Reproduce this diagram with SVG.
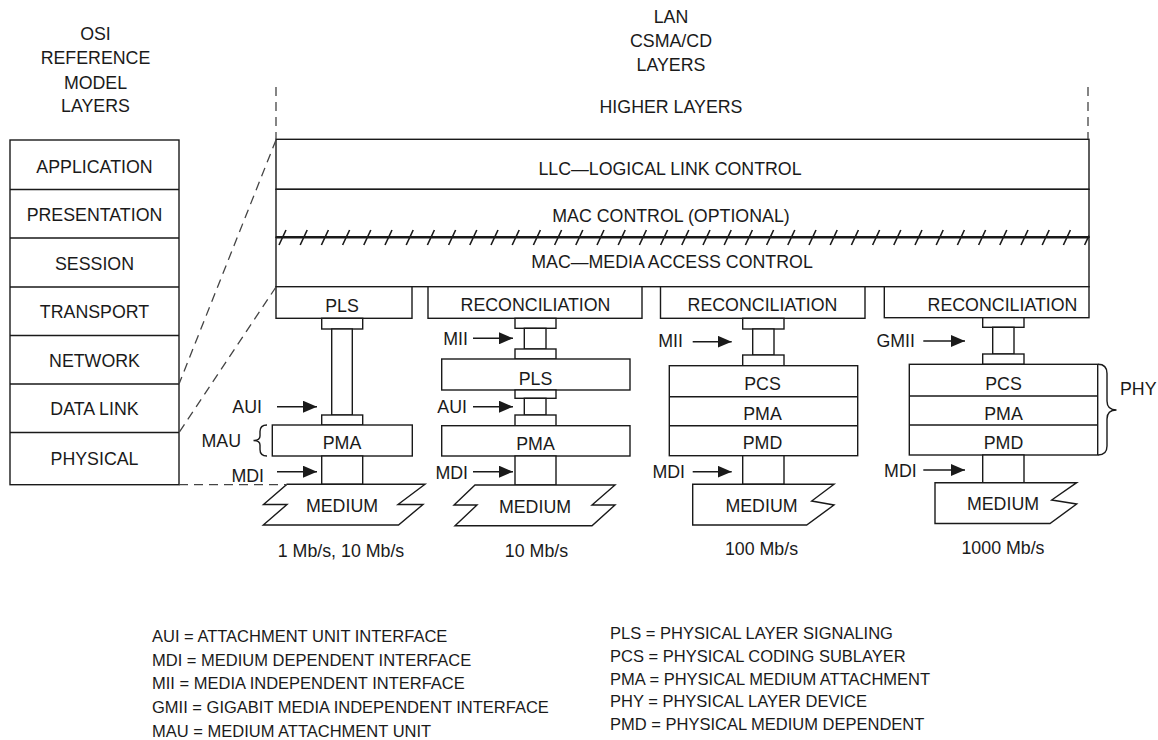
<svg xmlns="http://www.w3.org/2000/svg" width="1158" height="740" viewBox="0 0 1158 740">
<style>
.b{fill:#fff;stroke:#1a1a1a;stroke-width:1.4}
.l{fill:none;stroke:#1a1a1a;stroke-width:1.4}
.d{fill:none;stroke:#444;stroke-width:1.3;stroke-dasharray:9,6}
.h{fill:none;stroke:#1a1a1a;stroke-width:1.6}
.a{fill:none;stroke:#1a1a1a;stroke-width:1.4;marker-end:url(#ah)}
text{font-family:"Liberation Sans",Arial,Helvetica,sans-serif;font-size:17.8px;fill:#1a1a1a}
.c{text-anchor:middle}
.e{text-anchor:end}
.g{font-size:16.5px}
</style>
<defs>
<marker id="ah" markerWidth="14" markerHeight="12" refX="14" refY="6" orient="auto" markerUnits="userSpaceOnUse"><path d="M0,0 L14,6 L0,12 z" fill="#1a1a1a"/></marker>
</defs>

<g id="osi-header">
<text class="c" x="95.5" y="39.5">OSI</text>
<text class="c" x="95.5" y="64">REFERENCE</text>
<text class="c" x="95.5" y="88.5">MODEL</text>
<text class="c" x="95.5" y="112">LAYERS</text>
</g>
<g id="lan-header">
<text class="c" x="671" y="22.5">LAN</text>
<text class="c" x="671" y="46.5">CSMA/CD</text>
<text class="c" x="671" y="70.5">LAYERS</text>
<text class="c" x="671" y="113">HIGHER LAYERS</text>
</g>

<g id="osi-stack">
<rect class="b" x="10" y="140" width="169" height="344.7"/>
<path class="l" d="M10,189.5H179M10,238H179M10,287H179M10,335.5H179M10,384H179M10,432.5H179"/>
<text class="c" x="94.5" y="172.5">APPLICATION</text>
<text class="c" x="94.5" y="221">PRESENTATION</text>
<text class="c" x="94.5" y="269.5">SESSION</text>
<text class="c" x="94.5" y="318">TRANSPORT</text>
<text class="c" x="94.5" y="366.5">NETWORK</text>
<text class="c" x="94.5" y="414.5">DATA LINK</text>
<text class="c" x="94.5" y="464.5">PHYSICAL</text>
</g>

<g id="llc">
<rect class="b" x="276" y="139.3" width="813" height="50"/>
<text class="c" x="670" y="174.5">LLC—LOGICAL LINK CONTROL</text>
</g>
<g id="mac-control">
<rect class="b" x="276" y="189.3" width="813" height="48"/>
<text class="c" x="671" y="221.5">MAC CONTROL (OPTIONAL)</text>
</g>
<g id="mac">
<rect class="b" x="276" y="237.3" width="813" height="49.4"/>
<text class="c" x="672" y="268">MAC—MEDIA ACCESS CONTROL</text>
</g>
<g id="hatch">
<line x1="276" y1="237.3" x2="1089" y2="237.3" stroke="#1a1a1a" stroke-width="2.4"/>
<path class="h" d="M279,245l7,-15M300.2,245l7,-15M321.4,245l7,-15M342.6,245l7,-15M363.8,245l7,-15M385,245l7,-15M406.2,245l7,-15M427.4,245l7,-15M448.6,245l7,-15M469.8,245l7,-15M491,245l7,-15M512.2,245l7,-15M533.4,245l7,-15M554.6,245l7,-15M575.8,245l7,-15M597,245l7,-15M618.2,245l7,-15M639.4,245l7,-15M660.6,245l7,-15M681.8,245l7,-15M703,245l7,-15M724.2,245l7,-15M745.4,245l7,-15M766.6,245l7,-15M787.8,245l7,-15M809,245l7,-15M830.2,245l7,-15M851.4,245l7,-15M872.6,245l7,-15M893.8,245l7,-15M915,245l7,-15M936.2,245l7,-15M957.4,245l7,-15M978.6,245l7,-15M999.8,245l7,-15M1021,245l7,-15M1042.2,245l7,-15M1063.4,245l7,-15M1084.6,245l4.4,-9.4"/>
</g>

<!-- Column 1: 1 Mb/s, 10 Mb/s -->
<g id="pls1">
<rect class="b" x="276" y="286.7" width="136" height="31.6"/>
<text class="c" x="342" y="311.5">PLS</text>
</g>
<g id="aui1-cable">
<rect class="b" x="321.7" y="318.3" width="41" height="10.7"/>
<rect class="b" x="331.7" y="329" width="20.6" height="86"/>
<rect class="b" x="321.7" y="415" width="41" height="10"/>
</g>
<g id="pma1">
<rect class="b" x="272.3" y="425" width="140" height="31"/>
<text class="c" x="342" y="448.5">PMA</text>
</g>
<g id="mdi1">
<rect class="b" x="321.7" y="456" width="41" height="28.3"/>
</g>
<g id="medium1">
<path class="b" d="M287,484.3H425L398,504.5H423L398.5,525H263.3L287,504.5H263.5Z"/>
<text class="c" x="342" y="512">MEDIUM</text>
<text class="c" x="341" y="556.5">1 Mb/s, 10 Mb/s</text>
</g>
<g id="mau1">
<path class="l" d="M267,425Q260,425 260,431.5V436Q260,440.5 253.5,440.5Q260,440.5 260,445V449.5Q260,456 267,456"/>
<text class="e" x="241" y="447">MAU</text>
</g>

<!-- Column 2: 10 Mb/s -->
<g id="rec2">
<rect class="b" x="428" y="286.7" width="214" height="31.6"/>
<text class="c" x="535.5" y="310.5">RECONCILIATION</text>
</g>
<g id="mii2-cable">
<rect class="b" x="515" y="318.3" width="41" height="10"/>
<rect class="b" x="524.3" y="328.3" width="21.7" height="20.7"/>
<rect class="b" x="515" y="349" width="41" height="10"/>
</g>
<g id="pls2">
<rect class="b" x="441.7" y="359" width="188.3" height="31"/>
<text class="c" x="535.5" y="384.5">PLS</text>
</g>
<g id="aui2-cable">
<rect class="b" x="515" y="390" width="41" height="8.3"/>
<rect class="b" x="524.3" y="398.3" width="21.7" height="16.7"/>
<rect class="b" x="515" y="415" width="41" height="10.7"/>
</g>
<g id="pma2">
<rect class="b" x="441.7" y="425.7" width="188.3" height="30.3"/>
<text class="c" x="535.5" y="450">PMA</text>
</g>
<g id="mdi2">
<rect class="b" x="515" y="456" width="41" height="29"/>
</g>
<g id="medium2">
<path class="b" d="M475,485H615L592,505H615L592,525.7H455L477,505H454Z"/>
<text class="c" x="535" y="513">MEDIUM</text>
<text class="c" x="536.5" y="556.5">10 Mb/s</text>
</g>

<!-- Column 3: 100 Mb/s -->
<g id="rec3">
<rect class="b" x="660.5" y="286.7" width="204.5" height="31.6"/>
<text class="c" x="762.5" y="311">RECONCILIATION</text>
</g>
<g id="mii3-cable">
<rect class="b" x="742.7" y="318.3" width="41.3" height="10.7"/>
<rect class="b" x="752.7" y="329" width="21.3" height="26"/>
<rect class="b" x="742.7" y="355" width="41.3" height="10.7"/>
</g>
<g id="phy3">
<rect class="b" x="669.3" y="365.7" width="188.4" height="90"/>
<path class="l" d="M669.3,396.7H857.7M669.3,425.7H857.7"/>
<text class="c" x="762.5" y="390">PCS</text>
<text class="c" x="762.5" y="420">PMA</text>
<text class="c" x="762.5" y="449">PMD</text>
</g>
<g id="mdi3">
<rect class="b" x="742.7" y="455.7" width="41.3" height="28.6"/>
</g>
<g id="medium3">
<path class="b" d="M692.7,484.3H834L811.7,501L834,505L806.7,525H692.7Z"/>
<text class="c" x="761.5" y="511.5">MEDIUM</text>
<text class="c" x="761.5" y="554.5">100 Mb/s</text>
</g>

<!-- Column 4: 1000 Mb/s -->
<g id="rec4">
<rect class="b" x="884.3" y="286.7" width="204.7" height="31"/>
<text class="c" x="1002.5" y="310.7">RECONCILIATION</text>
</g>
<g id="gmii4-cable">
<rect class="b" x="982.7" y="317.7" width="41.3" height="9.6"/>
<rect class="b" x="992.7" y="327.3" width="21.3" height="26.7"/>
<rect class="b" x="982.7" y="354" width="41.3" height="10.3"/>
</g>
<g id="phy4">
<rect class="b" x="909.3" y="364.3" width="188.4" height="90.7"/>
<path class="l" d="M909.3,396H1097.7M909.3,425H1097.7"/>
<text class="c" x="1003.5" y="389.5">PCS</text>
<text class="c" x="1003.5" y="420">PMA</text>
<text class="c" x="1003.5" y="448.5">PMD</text>
</g>
<g id="mdi4">
<rect class="b" x="982.7" y="455" width="41.3" height="27.7"/>
</g>
<g id="medium4">
<path class="b" d="M935,482.7H1076.7L1051.7,500L1076.7,504L1050,523.5H935Z"/>
<text class="c" x="1003" y="510">MEDIUM</text>
<text class="c" x="1003" y="554">1000 Mb/s</text>
</g>
<g id="phy-brace">
<path class="l" d="M1098,364.3Q1107,364.3 1107,373.5V401Q1107,410 1116.5,410Q1107,410 1107,419V446Q1107,455 1098,455"/>
<text x="1120" y="394.5">PHY</text>
</g>

<g id="connectors">
<path class="d" d="M276,87V139"/>
<path class="d" d="M1088,87V139"/>
<path class="d" d="M276,140L179,384"/>
<path class="d" d="M276,287L179,432.5"/>
<path class="d" d="M179,484.7H287"/>
<line class="a" x1="277" y1="406.7" x2="317" y2="406.7"/>
<line class="a" x1="277" y1="471.7" x2="317" y2="471.7"/>
<line class="a" x1="473" y1="338.3" x2="513" y2="338.3"/>
<line class="a" x1="473" y1="406.7" x2="513" y2="406.7"/>
<line class="a" x1="473" y1="471.7" x2="513" y2="471.7"/>
<line class="a" x1="692.7" y1="341.7" x2="731.7" y2="341.7"/>
<line class="a" x1="692.7" y1="471.7" x2="731.7" y2="471.7"/>
<line class="a" x1="923.3" y1="341" x2="965" y2="341"/>
<line class="a" x1="923.3" y1="470" x2="965" y2="470"/>
</g>

<g id="interface-labels">
<text class="e" x="262" y="412.5">AUI</text>
<text class="e" x="264" y="481.5">MDI</text>
<text class="e" x="468" y="344.5">MII</text>
<text class="e" x="467" y="413">AUI</text>
<text class="e" x="468" y="479">MDI</text>
<text class="e" x="683" y="347">MII</text>
<text class="e" x="685" y="478">MDI</text>
<text class="e" x="915" y="347">GMII</text>
<text class="e" x="916.7" y="476.5">MDI</text>
</g>

<g id="legend">
<text class="g" x="152" y="641.5">AUI = ATTACHMENT UNIT INTERFACE</text>
<text class="g" x="152" y="665.5">MDI = MEDIUM DEPENDENT INTERFACE</text>
<text class="g" x="152" y="689">MII = MEDIA INDEPENDENT INTERFACE</text>
<text class="g" x="152" y="713">GMII = GIGABIT MEDIA INDEPENDENT INTERFACE</text>
<text class="g" x="152" y="736.5">MAU = MEDIUM ATTACHMENT UNIT</text>
<text class="g" x="610" y="638.5">PLS = PHYSICAL LAYER SIGNALING</text>
<text class="g" x="610" y="661.5">PCS = PHYSICAL CODING SUBLAYER</text>
<text class="g" x="610" y="684.5">PMA = PHYSICAL MEDIUM ATTACHMENT</text>
<text class="g" x="610" y="706.5">PHY = PHYSICAL LAYER DEVICE</text>
<text class="g" x="610" y="729.5">PMD = PHYSICAL MEDIUM DEPENDENT</text>
</g>
</svg>
